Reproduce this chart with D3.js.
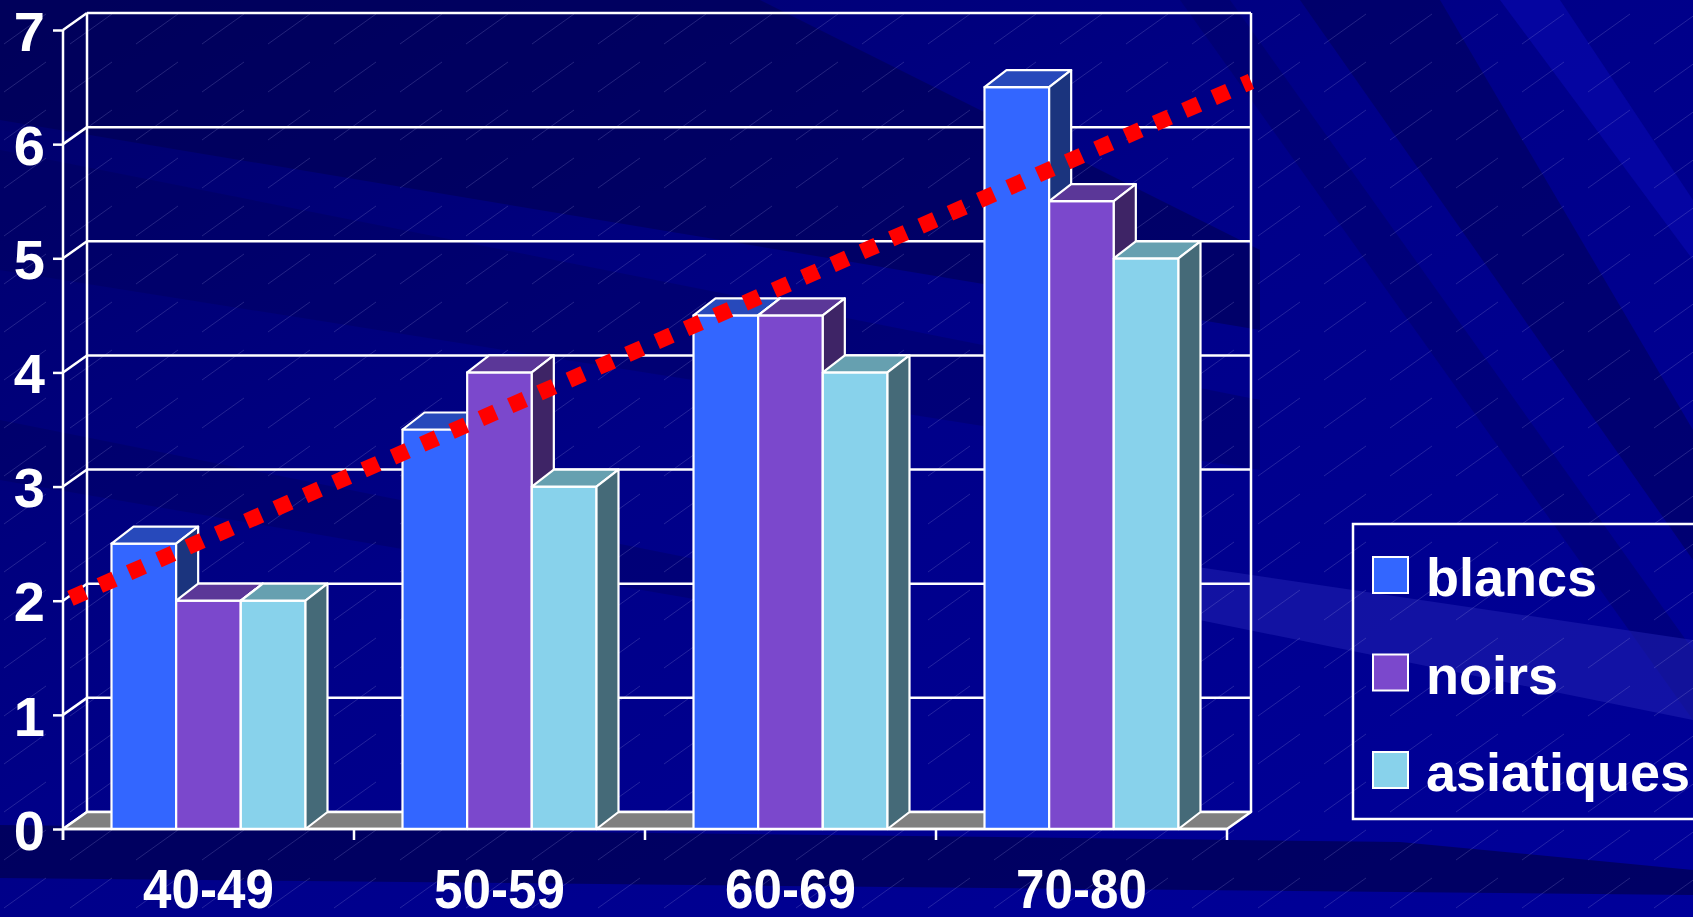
<!DOCTYPE html>
<html>
<head>
<meta charset="utf-8">
<script src="https://cdn.jsdelivr.net/npm/d3@7"></script>
<style>
  html, body { margin: 0; padding: 0; background: #000088; overflow: hidden; }
  svg { display: block; font-family: "Liberation Sans", Arial, sans-serif; font-weight: bold; }
</style>
</head>
<body>
<svg id="chart" width="1693" height="917"></svg>
<script>
// données
const categories = ['40-49', '50-59', '60-69', '70-80'];
const seriesNames = ['blancs', 'noirs', 'asiatiques'];
const blancs = [2.5, 3.5, 4.5, 6.5];
const noirs = [2, 4, 4.5, 5.5];
const asiatiques = [2, 3, 4, 5];
const yTicks = [0, 1, 2, 3, 4, 5, 6, 7];
// ligne de tendance rouge : valeur au début et à la fin
const trend = [2.0, 6.55];

const seriesValues = { blancs: blancs, noirs: noirs, asiatiques: asiatiques };
const colors = {
    blancs: { front: '#3366ff', top: '#2749bb', side: '#1b347e' },
    noirs: { front: '#7b48cc', top: '#5b3798', side: '#3e2466' },
    asiatiques: { front: '#88d2eb', top: '#66a0b0', side: '#456a78' }
};

let svg = d3.select('#chart');
const W = 1693, H = 917;

// ---- fond ----
let defs = svg.append('defs');
let bg = defs.append('linearGradient').attr('id', 'bgGrad')
    .attr('x1', 0).attr('y1', 0).attr('x2', 1).attr('y2', 1);
bg.append('stop').attr('offset', '0%').attr('stop-color', '#00006a');
bg.append('stop').attr('offset', '45%').attr('stop-color', '#000088');
bg.append('stop').attr('offset', '100%').attr('stop-color', '#00009a');

let pat = defs.append('pattern').attr('id', 'hatch')
    .attr('patternUnits', 'userSpaceOnUse')
    .attr('width', 66).attr('height', 48);
pat.append('line').attr('x1', 4).attr('y1', 44).attr('x2', 46).attr('y2', 14)
    .attr('stroke', '#a0a0e0').attr('stroke-width', 1).attr('stroke-opacity', 0.22);

svg.append('rect').attr('width', W).attr('height', H).attr('fill', 'url(#bgGrad)');

// rayons décoratifs
let rays = [
    { p: [[0, 0], [760, 0], [1260, 250], [1260, 330], [0, 120]], c: '#00004e', o: 0.55 },
    { p: [[0, 150], [1260, 400], [1260, 470], [0, 270]], c: '#00004e', o: 0.3 },
    { p: [[0, 420], [700, 560], [700, 600], [0, 480]], c: '#00004e', o: 0.3 },
    { p: [[1300, 0], [1440, 0], [1693, 430], [1693, 560]], c: '#000058', o: 0.55 },
    { p: [[1180, 0], [1230, 0], [1693, 650], [1693, 720]], c: '#000058', o: 0.35 },
    { p: [[1500, 0], [1560, 0], [1693, 200], [1693, 260]], c: '#0a0ab8', o: 0.5 },
    { p: [[1150, 560], [1693, 640], [1693, 720], [1150, 610]], c: '#2424b4', o: 0.5 },
    { p: [[0, 825], [1400, 842], [1693, 870], [1693, 895], [0, 878]], c: '#00004e', o: 0.7 }
];
svg.append('g').selectAll('path').data(rays).enter().append('path')
    .attr('d', d => 'M' + d.p.map(q => q.join(',')).join('L') + 'Z')
    .attr('fill', d => d.c).attr('fill-opacity', d => d.o);
svg.append('rect').attr('width', W).attr('height', H).attr('fill', 'url(#hatch)');

// ---- échelles ----
let x0 = 63, x1 = 1227, yBase = 829, yTop = 30;
let wallDx = 24, wallDy = -17;
let barDx = 22, barDy = -17;

let xScale = d3.scaleBand().domain(categories).range([x0, x1])
    .paddingInner(1 / 3).paddingOuter(1 / 6);
let xSub = d3.scaleBand().domain(seriesNames).range([0, xScale.bandwidth()]);
let yScale = d3.scaleLinear().domain([0, 7]).range([yBase, yTop]);
let step = xScale.step();

let g = svg.append('g');

// mur du fond + quadrillage
g.selectAll('line.grid').data(yTicks).enter().append('line')
    .attr('class', 'grid')
    .attr('x1', x0 + wallDx).attr('x2', x1 + wallDx)
    .attr('y1', d => yScale(d) + wallDy).attr('y2', d => yScale(d) + wallDy)
    .attr('stroke', '#fff').attr('stroke-width', 2.5);
g.selectAll('line.side').data(yTicks).enter().append('line')
    .attr('class', 'side')
    .attr('x1', x0).attr('x2', x0 + wallDx)
    .attr('y1', d => yScale(d)).attr('y2', d => yScale(d) + wallDy)
    .attr('stroke', '#fff').attr('stroke-width', 2.5);
[x0 + wallDx, x1 + wallDx].forEach(function (xx) {
    g.append('line').attr('x1', xx).attr('x2', xx)
        .attr('y1', yScale(7) + wallDy).attr('y2', yScale(0) + wallDy)
        .attr('stroke', '#fff').attr('stroke-width', 2.5);
});

// sol
g.append('path')
    .attr('d', 'M' + x0 + ',' + yBase + 'L' + x1 + ',' + yBase +
        'L' + (x1 + wallDx) + ',' + (yBase + wallDy) + 'L' + (x0 + wallDx) + ',' + (yBase + wallDy) + 'Z')
    .attr('fill', '#808080').attr('stroke', '#fff').attr('stroke-width', 2.5)
    .attr('stroke-linejoin', 'round');

// barres 3D
let bars = [];
categories.forEach(function (c, i) {
    seriesNames.forEach(function (s) {
        bars.push({ cat: c, series: s, value: seriesValues[s][i] });
    });
});
let barG = g.selectAll('g.bar').data(bars).enter().append('g').attr('class', 'bar');
let bx = d => xScale(d.cat) + xSub(d.series);
let bw = xSub.bandwidth();
barG.append('path')  // face avant
    .attr('d', d => {
        let l = bx(d), r = l + bw, t = yScale(d.value), b = yScale(0);
        return 'M' + l + ',' + b + 'L' + l + ',' + t + 'L' + r + ',' + t + 'L' + r + ',' + b + 'Z';
    })
    .attr('fill', d => colors[d.series].front);
barG.append('path')  // dessus
    .attr('d', d => {
        let l = bx(d), r = l + bw, t = yScale(d.value);
        return 'M' + l + ',' + t + 'L' + (l + barDx) + ',' + (t + barDy) +
            'L' + (r + barDx) + ',' + (t + barDy) + 'L' + r + ',' + t + 'Z';
    })
    .attr('fill', d => colors[d.series].top);
barG.append('path')  // côté
    .attr('d', d => {
        let r = bx(d) + bw, t = yScale(d.value), b = yScale(0);
        return 'M' + r + ',' + t + 'L' + (r + barDx) + ',' + (t + barDy) +
            'L' + (r + barDx) + ',' + (b + barDy) + 'L' + r + ',' + b + 'Z';
    })
    .attr('fill', d => colors[d.series].side);
barG.selectAll('path').attr('stroke', '#fff').attr('stroke-width', 2.2)
    .attr('stroke-linejoin', 'round');

// axes
let yAxis = d3.axisLeft(yScale).tickValues(yTicks).tickSize(10).tickPadding(10).tickFormat(d3.format('d'));
let yAx = svg.append('g').attr('transform', 'translate(' + x0 + ',0)').call(yAxis);
yAx.select('.domain').attr('stroke', '#fff').attr('stroke-width', 2.5)
    .attr('d', 'M0,' + yTop + 'V' + (yBase + 11));
yAx.selectAll('.tick line').attr('stroke', '#fff').attr('stroke-width', 2.5);
yAx.selectAll('.tick text').attr('fill', '#fff').attr('font-size', 56)
    .attr('font-family', '"Liberation Sans", Arial, sans-serif').attr('font-weight', 'bold')
    .attr('x', -18).attr('dy', '0.36em');

let xAx = svg.append('g').attr('transform', 'translate(0,' + yBase + ')');
xAx.append('line').attr('x1', x0).attr('x2', x1).attr('stroke', '#fff').attr('stroke-width', 2.5);
xAx.selectAll('line.tk').data(d3.range(categories.length + 1)).enter().append('line')
    .attr('class', 'tk')
    .attr('x1', d => x0 + d * step).attr('x2', d => x0 + d * step)
    .attr('y1', 0).attr('y2', 11)
    .attr('stroke', '#fff').attr('stroke-width', 2.5);
xAx.selectAll('text').data(categories).enter().append('text')
    .attr('transform', d => 'translate(' + (xScale(d) + xScale.bandwidth() / 2) + ',79) scale(0.93,1)')
    .attr('text-anchor', 'middle').attr('fill', '#fff').attr('font-size', 55)
    .text(d => d);

// ligne de tendance pointillée
let trendLine = d3.line().x(d => d[0]).y(d => d[1]);
svg.append('path')
    .attr('d', trendLine([[x0 + 2, yScale(trend[0])], [x1 + wallDx, yScale(trend[1])]]))
    .attr('stroke', '#ff0000').attr('stroke-width', 16)
    .attr('stroke-dasharray', '16 16').attr('stroke-dashoffset', -6)
    .attr('fill', 'none');

// légende
let leg = svg.append('g');
leg.append('rect').attr('x', 1353).attr('y', 524).attr('width', 400).attr('height', 295)
    .attr('fill', 'none').attr('stroke', '#fff').attr('stroke-width', 2.5);
let legRow = d3.scalePoint().domain(seriesNames).range([575, 770]);
let li = leg.selectAll('g.li').data(seriesNames).enter().append('g').attr('class', 'li')
    .attr('transform', d => 'translate(1373,' + legRow(d) + ')');
li.append('rect').attr('x', 0).attr('y', -18).attr('width', 35).attr('height', 36)
    .attr('fill', d => colors[d].front).attr('stroke', '#fff').attr('stroke-width', 2);
li.append('text').attr('x', 53).attr('y', 21).attr('fill', '#fff').attr('font-size', 54)
    .text(d => d);
</script>
</body>
</html>
